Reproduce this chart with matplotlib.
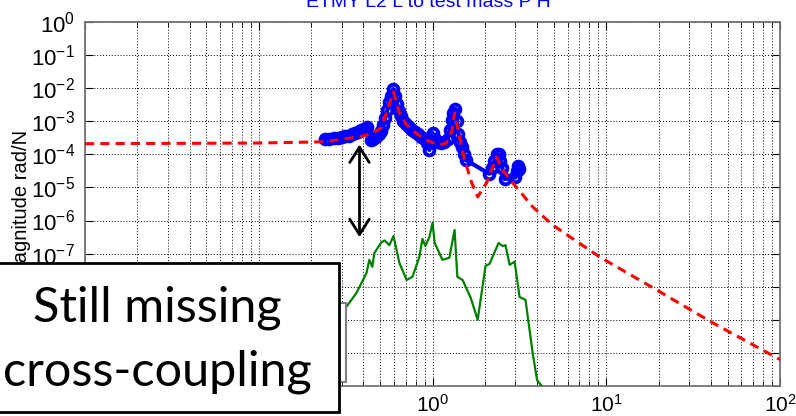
import matplotlib
matplotlib.use("Agg")
import matplotlib.pyplot as plt
from matplotlib.patches import Rectangle

plt.rcParams['font.family'] = ['Liberation Sans', 'DejaVu Sans']

# measured transfer function (L2 L -> test mass P)
meas_f = [0.24, 0.255, 0.27, 0.285, 0.30, 0.315, 0.33, 0.345, 0.36, 0.375, 0.39, 0.405, 0.42,
          0.44, 0.455, 0.47, 0.49, 0.505, 0.52, 0.535, 0.55, 0.565, 0.58, 0.595, 0.61, 0.625,
          0.64, 0.66, 0.68, 0.70, 0.73, 0.76, 0.79, 0.82, 0.86, 0.90, 0.93, 0.96, 0.98, 1.0,
          1.03, 1.07, 1.12, 1.17, 1.22, 1.26, 1.29, 1.32, 1.35, 1.38, 1.41, 1.44, 1.47, 1.51,
          1.55, 2.12, 2.2, 2.27, 2.34, 2.40, 2.46, 2.52, 2.6, 3.0, 3.05, 3.1, 3.15]
meas_mag = [2.9e-4, 3.0e-4, 3.1e-4, 3.2e-4, 3.3e-4, 3.5e-4, 3.7e-4, 4.0e-4, 4.3e-4, 4.7e-4,
            5.3e-4, 6.0e-4, 6.7e-4, 2.8e-4, 3.0e-4, 3.4e-4, 4.2e-4, 5.2e-4, 7.5e-4, 1.25e-3,
            2.2e-3, 3.8e-3, 6.0e-3, 9.4e-3, 6.0e-3, 3.4e-3, 2.0e-3, 1.4e-3, 1.05e-3, 8.5e-4,
            6.8e-4, 5.6e-4, 4.6e-4, 4.0e-4, 3.4e-4, 2.9e-4, 2.2e-4, 1.35e-4, 2.8e-4, 4.4e-4,
            3.0e-4, 2.4e-4, 2.2e-4, 2.3e-4, 2.9e-4, 5.5e-4, 1.1e-3, 1.8e-3, 2.4e-3, 1.0e-3,
            4.2e-4, 2.4e-4, 1.7e-4, 1.0e-4, 6.8e-5, 2.6e-5, 3.8e-5, 6.5e-5, 1.05e-4, 1.0e-4,
            6.5e-5, 4.0e-5, 1.8e-5, 2.0e-5, 3.2e-5, 4.6e-5, 3.5e-5]

# model
model_f = [0.01, 0.1, 0.24, 0.38, 0.445, 0.508, 0.55, 0.596, 0.62, 0.645, 0.71, 0.81, 0.92,
           1.10, 1.20, 1.29, 1.34, 1.39, 1.47, 1.53, 1.68, 1.82, 2.05, 2.34, 2.53, 2.89,
           3.77, 4.9, 9.17, 19.5, 41, 100]
model_mag = [2.1e-4, 2.2e-4, 2.4e-4, 3.4e-4, 4.2e-4, 6.3e-4, 2.2e-3, 7.7e-3, 3.8e-3, 1.8e-3,
             7.7e-4, 4.2e-4, 2.7e-4, 1.9e-4, 2.2e-4, 4.8e-4, 1.8e-3, 6.7e-4, 1.7e-4, 6.8e-5,
             1.4e-5, 5.2e-6, 1.4e-5, 8.3e-5, 3.4e-5, 1.4e-5, 2.6e-6, 7.4e-7, 7.9e-8, 8e-9,
             8.1e-10, 6.3e-11]

# cross coupling model (L -> P)
cc_f = [0.319, 0.365, 0.417, 0.433, 0.45, 0.463, 0.508, 0.53, 0.565, 0.596, 0.645, 0.71,
        0.767, 0.84, 0.875, 0.91, 0.96, 1.0, 1.03, 1.14, 1.25, 1.34, 1.39, 1.49, 1.66, 1.82,
        2.02, 2.13, 2.4, 2.53, 2.63, 2.78, 2.97, 3.17, 3.43, 3.77, 4.0, 4.4]
cc_mag = [2.45e-9, 6.5e-9, 2.6e-8, 6.5e-8, 4e-8, 1.05e-7, 2.2e-7, 2.5e-7, 1.8e-7, 3.4e-7,
          5.2e-8, 1.6e-8, 2e-8, 7.9e-8, 2.8e-7, 1.7e-7, 3.2e-7, 8.5e-7, 2.1e-7, 6.5e-8,
          7.5e-8, 5.2e-7, 2e-8, 1.6e-8, 4.6e-9, 1e-9, 4.3e-8, 4.9e-8, 2.1e-7, 1.7e-7, 1.8e-7,
          4.6e-8, 5.7e-8, 4.9e-9, 4e-9, 1e-10, 1.5e-11, 8e-12]

W, H = 796, 416
fig = plt.figure(figsize=(W / 100, H / 100), dpi=100)
ax = fig.add_axes([85 / W, 1 - 386 / H, 695 / W, 364 / H])

ax.plot(meas_f, meas_mag, '-o', color='blue', lw=3, ms=7, mfc='none', mew=2.8, zorder=3)
ax.plot(model_f, model_mag, '--', color='red', lw=2.2, dashes=(3, 2), zorder=4)
ax.plot(cc_f, cc_mag, '-', color=(0, 0.5, 0), lw=1.6, zorder=3)

ax.set_xscale('log')
ax.set_yscale('log')
ax.set_xlim(1e-2, 1e2)
ax.set_ylim(1e-11, 1e0)
ax.set_yticks([10.0 ** k for k in range(-11, 1)])
ax.grid(True, which='both', ls=(0, (1, 2)), lw=0.7, color='k')
ax.tick_params(which='both', direction='in', top=True, right=True, labelsize=16)
ax.tick_params(which='major', length=6, pad=7)
ax.tick_params(axis='x', which='major', labelsize=15, pad=6)
ax.tick_params(which='minor', length=3.5)
for s in ax.spines.values():
    s.set_color('0.45')
    s.set_linewidth(1.3)

ax.set_ylabel('Magnitude rad/N', fontsize=14.5)
ax.yaxis.set_label_coords(-0.077, 0.5)

fig.text(428 / W, 1 - 7 / H, 'ETMY L2 L to test mass P H', color='blue', fontsize=14,
         ha='center', va='baseline')

# gap between model and cross coupling
ax.annotate('', xy=(0.38, 2.4e-4), xytext=(0.38, 2.6e-7),
            arrowprops=dict(arrowstyle='<->,head_length=1.1,head_width=0.7', lw=2, color='k'),
            zorder=5)

# legend frame (covered)
fig.patches.append(Rectangle((100 / W, 1 - 382 / H), 246 / W, 79 / H, transform=fig.transFigure,
                             facecolor='white', edgecolor='0.5', lw=1.5, zorder=5))

# callout box
fig.patches.append(Rectangle((-2 / W, 1 - 412 / H), 341 / W, 149 / H, transform=fig.transFigure,
                             facecolor='white', edgecolor='black', lw=2, zorder=6))
fig.text(157 / W, 1 - 322 / H, 'Still missing', fontsize=35, family='Lato',
         ha='center', va='baseline', zorder=7)
fig.text(157 / W, 1 - 385 / H, 'cross-coupling', fontsize=35, family='Lato',
         ha='center', va='baseline', zorder=7)

fig.savefig('out.png', dpi=100)
